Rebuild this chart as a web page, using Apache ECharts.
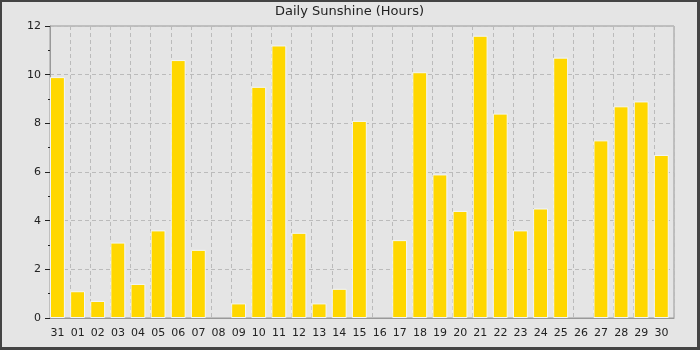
<!DOCTYPE html>
<html>
<head>
<meta charset="utf-8">
<script src="https://cdn.jsdelivr.net/npm/echarts@6/dist/echarts.min.js"></script>
<style>
  html, body { margin: 0; padding: 0; background: #e5e5e5; }
  #wrap {
    box-sizing: border-box;
    width: 700px; height: 350px;
    border-style: solid; border-color: #444;
    border-width: 2px 3px 3px 2px;
    background: #e5e5e5;
  }
  #chart { width: 695px; height: 345px; }
</style>
</head>
<body>
<div id="wrap"><div id="chart"></div></div>
<script>
// 日期（上月 31 日开始）
const days = ['31', '01', '02', '03', '04', '05', '06', '07', '08', '09', '10',
  '11', '12', '13', '14', '15', '16', '17', '18', '19', '20',
  '21', '22', '23', '24', '25', '26', '27', '28', '29', '30'];
// 每日日照小时数
const sunshine = [9.9, 1.1, 0.7, 3.1, 1.4, 3.6, 10.6, 2.8, 0, 0.6, 9.5,
  11.2, 3.5, 0.6, 1.2, 8.1, 0, 3.2, 10.1, 5.9, 4.4,
  11.6, 8.4, 3.6, 4.5, 10.7, 0, 7.3, 8.7, 8.9, 6.7];
const yTicks = [0, 2, 4, 6, 8, 10, 12];

const chart = echarts.init(document.getElementById('chart'), null, { renderer: 'canvas' });

const gridLine = { color: '#bbbbbb', width: 1, type: [4, 3] };
const textColor = '#222222';
const font = 'DejaVu Sans';

chart.setOption({
  animation: false,
  backgroundColor: '#e5e5e5',
  title: {
    text: 'Daily Sunshine (Hours)',
    left: 'center',
    top: 3,
    padding: 0,
    textStyle: { fontFamily: font, fontSize: 13, fontWeight: 'normal', color: textColor },
  },
  grid: {
    left: 48, top: 24, right: 23, bottom: 29,
    show: true, borderColor: '#999999', borderWidth: 1,
  },
  xAxis: {
    type: 'category',
    data: days,
    boundaryGap: true,
    axisLine: { lineStyle: { color: '#999999' } },
    axisTick: { show: false },
    axisLabel: {
      color: textColor, fontFamily: font, fontSize: 11, margin: 10,
      interval: 0, padding: [0, 5, 0, 0],
    },
    splitLine: { show: true, interval: 0, lineStyle: gridLine },
  },
  yAxis: {
    type: 'value',
    min: yTicks[0],
    max: yTicks[yTicks.length - 1],
    interval: 2,
    axisLine: { show: true, lineStyle: { color: '#999999' } },
    axisTick: { show: true, length: 5, lineStyle: { color: textColor } },
    minorTick: { show: true, splitNumber: 2, length: 2, lineStyle: { color: textColor } },
    axisLabel: { color: textColor, fontFamily: font, fontSize: 11, margin: 9 },
    splitLine: { show: true, lineStyle: gridLine },
  },
  series: [
    {
      type: 'bar',
      // 0 值不画边框
      data: sunshine.map((v) => (v === 0 ? { value: v, itemStyle: { borderWidth: 0 } } : v)),
      barWidth: '74%',
      barGap: 0,
      itemStyle: { color: '#ffd700', borderColor: '#f2f6fa', borderWidth: 1 },
    },
    {
      // 占位，让柱子靠左
      type: 'bar',
      data: sunshine.map(() => 0),
      barWidth: '26%',
      itemStyle: { color: 'transparent' },
      silent: true,
    },
  ],
});
</script>
</body>
</html>
